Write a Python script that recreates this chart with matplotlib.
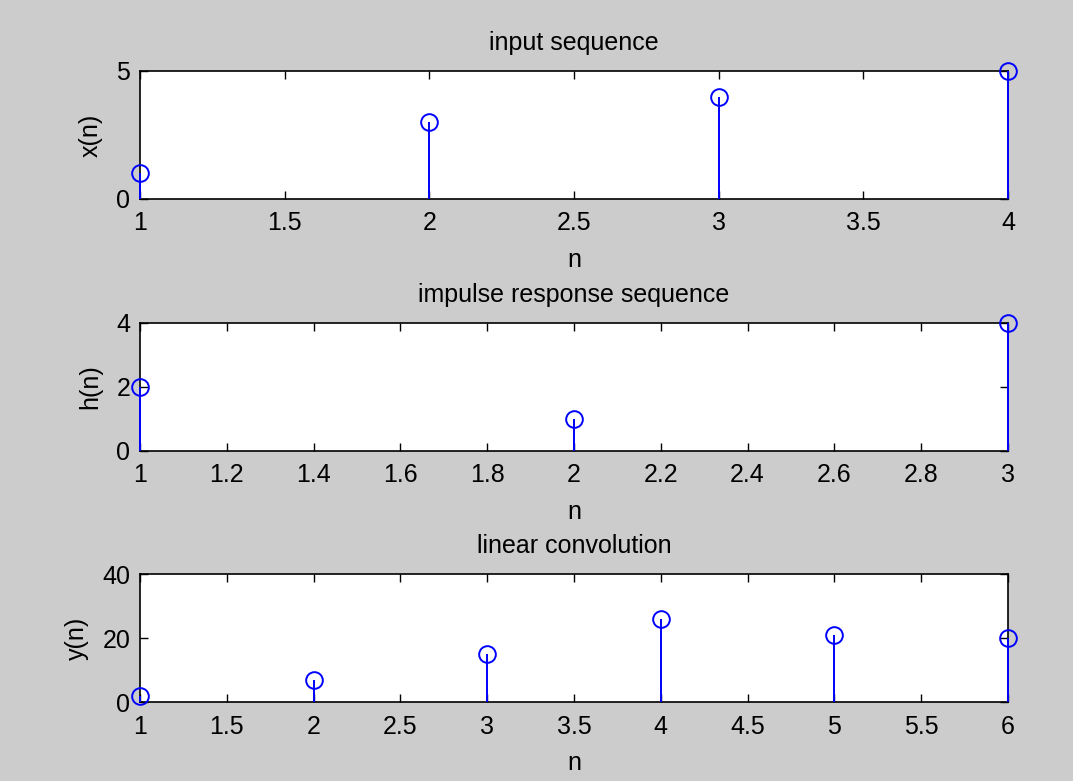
import matplotlib
matplotlib.use("Agg")
import matplotlib.pyplot as plt

x_n = [1, 2, 3, 4]
x_vals = [1, 3, 4, 5]
h_n = [1, 2, 3]
h_vals = [2, 1, 4]
y_n = [1, 2, 3, 4, 5, 6]
y_vals = [2, 7, 15, 26, 21, 20]

titles = ["input sequence", "impulse response sequence", "linear convolution"]
ylabels = ["x(n)", "h(n)", "y(n)"]
yticks = [[0, 5], [0, 2, 4], [0, 20, 40]]
xticks = [[1, 1.5, 2, 2.5, 3, 3.5, 4],
          [1, 1.2, 1.4, 1.6, 1.8, 2, 2.2, 2.4, 2.6, 2.8, 3],
          [1, 1.5, 2, 2.5, 3, 3.5, 4, 4.5, 5, 5.5, 6]]

plt.rcParams['font.family'] = ['Liberation Sans', 'DejaVu Sans']
fig = plt.figure(figsize=(10.73, 7.81), dpi=100, facecolor='#cccccc')

W, H = 1073, 781
left, right = 140, 1008
tops = [71, 323, 574]
ah = 128
data = [(x_n, x_vals), (h_n, h_vals), (y_n, y_vals)]
fs = 18

for i in range(3):
    top = tops[i]
    ax = fig.add_axes([left / W, 1 - (top + ah) / H, (right - left) / W, ah / H])
    n, v = data[i]
    ax.vlines(n, 0, v, color='#0000ff', lw=1.4, clip_on=False, zorder=3)
    ax.plot(n, v, 'o', mfc='none', mec='#0000ff', ms=12, mew=1.4, clip_on=False, zorder=4)
    ax.set_xlim(n[0], n[-1])
    ax.set_ylim(yticks[i][0], yticks[i][-1])
    ax.set_xticks(xticks[i])
    ax.set_xticklabels([('%g' % t) for t in xticks[i]])
    ax.set_yticks(yticks[i])
    ax.tick_params(direction='in', top=True, right=True, length=6, width=1,
                   labelsize=fs, colors='black')
    ax.tick_params(axis='x', pad=9)
    ax.tick_params(axis='y', pad=7)
    for s in ax.spines.values():
        s.set_linewidth(1.2)
    ax.set_title(titles[i], fontsize=fs, pad=15)
    ax.set_xlabel('n', fontsize=fs, labelpad=9)
    ax.set_ylabel(ylabels[i], fontsize=fs, labelpad=10)

fig.savefig('out.png', dpi=100, facecolor=fig.get_facecolor())
